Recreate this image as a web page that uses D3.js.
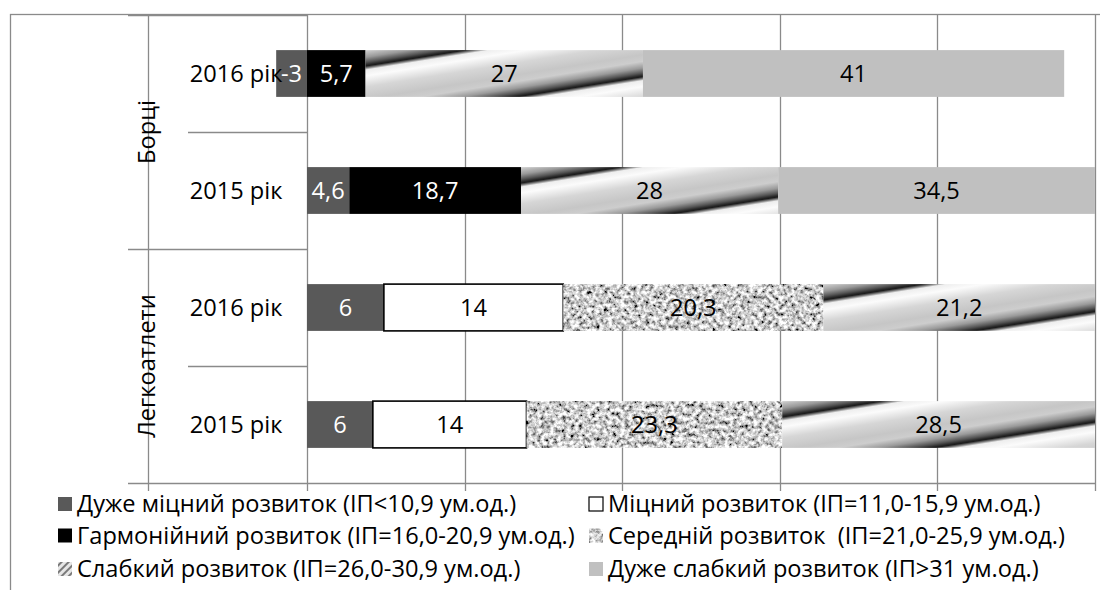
<!DOCTYPE html>
<html><head><meta charset="utf-8">
<script src="https://cdn.jsdelivr.net/npm/d3@7"></script>
<style>
body{margin:0;background:#fff}
svg{display:block}
text{font-family:"Open Sans",sans-serif;white-space:pre}
</style>
</head><body>
<svg id="c" width="1100" height="590"></svg>
<script>
// ---- data ----
const groups = ["Борці", "Борці", "Легкоатлети", "Легкоатлети"];
const years = ["2016 рік", "2015 рік", "2016 рік", "2015 рік"];
const seriesNames = [
  "Дуже міцний розвиток (ІП<10,9 ум.од.)",
  "Міцний розвиток (ІП=11,0-15,9 ум.од.)",
  "Гармонійний розвиток (ІП=16,0-20,9 ум.од.)",
  "Середній розвиток  (ІП=21,0-25,9 ум.од.)",
  "Слабкий розвиток (ІП=26,0-30,9 ум.од.)",
  "Дуже слабкий розвиток (ІП>31 ум.од.)"
];
const veryStrong = [-3, 4.6, 6, 6];
const strong = [null, null, 14, 14];
const harmonious = [5.7, 18.7, null, null];
const medium = [null, null, 20.3, 23.3];
const weak = [27, 28, 21.2, 28.5];
const veryWeak = [41, 34.5, null, null];
const seriesValues = [veryStrong, strong, harmonious, medium, weak, veryWeak];
// legend layout: row-major, two columns
const legendOrder = [0, 1, 2, 3, 4, 5];

// ---- layout ----
const svg = d3.select("#c");
const plot = {left: 307, right: 1095, top: 15, bottom: 483};
const FS = 23.6;
const grid = "#8a8a8a";

const x = d3.scaleLinear().domain([0, 1]).range([plot.left, plot.right]);
const y = d3.scaleBand().domain(d3.range(years.length))
  .range([plot.top, plot.bottom]).paddingInner(0.6).paddingOuter(0.3);
const step = y.step();

const defs = svg.append("defs");
// granite texture
const f = defs.append("filter").attr("id", "granite")
  .attr("filterUnits", "objectBoundingBox").attr("x", 0).attr("y", 0).attr("width", 1).attr("height", 1);
f.append("feTurbulence").attr("type", "fractalNoise").attr("baseFrequency", 0.24)
  .attr("numOctaves", 4).attr("seed", 7).attr("result", "n");
f.append("feColorMatrix").attr("in", "n").attr("type", "matrix")
  .attr("values", "2.1 0 0 0 -0.45  2.1 0 0 0 -0.45  2.1 0 0 0 -0.45  0 0 0 0 1").attr("result", "g");
f.append("feComposite").attr("in", "g").attr("in2", "SourceGraphic").attr("operator", "in");

// legend stripe pattern
const sp = defs.append("pattern").attr("id", "stripes").attr("patternUnits", "userSpaceOnUse")
  .attr("width", 5).attr("height", 5).attr("patternTransform", "rotate(45)");
sp.append("rect").attr("width", 5).attr("height", 5).attr("fill", "#e6e6e6");
sp.append("rect").attr("width", 2).attr("height", 5).attr("fill", "#7a7a7a");

const chromeStops = [
  [0, "#1c1c1c"], [0.03, "#707070"], [0.07, "#eeeeee"], [0.18, "#fbfbfb"],
  [0.38, "#d6d6d6"], [0.6, "#c6c6c6"], [0.72, "#cdcdcd"], [0.84, "#9a9a9a"],
  [0.93, "#555555"], [0.98, "#262626"], [1, "#1c1c1c"]
];

const solidFill = ["#595959", "#ffffff", "#000000", null, null, "#c0c0c0"];
const labelColor = ["#ffffff", "#000000", "#ffffff", "#000000", "#000000", "#000000"];

// outer border
svg.append("rect").attr("x", 10.5).attr("y", 14.5).attr("width", 1100).attr("height", 600)
  .attr("fill", "none").attr("stroke", grid).attr("stroke-width", 1.3);

// gridlines (value axis, ticks extend below)
svg.append("g").selectAll("line").data(x.ticks(5)).join("line")
  .attr("x1", d => Math.round(x(d)) + 0.5).attr("x2", d => Math.round(x(d)) + 0.5)
  .attr("y1", plot.top).attr("y2", plot.bottom + 8)
  .attr("stroke", grid).attr("stroke-width", 1.3);

// category axis lines
const catAxis = svg.append("g").attr("stroke", grid).attr("stroke-width", 1.3);
catAxis.append("line").attr("x1", 148.5).attr("x2", 148.5).attr("y1", plot.top).attr("y2", plot.bottom + 8);
d3.range(years.length + 1).forEach(i => {
  const yy = Math.round(plot.top + i * step) + 0.5;
  const isGroupEdge = i === 0 || i === years.length || groups[i] !== groups[i - 1];
  catAxis.append("line").attr("x1", isGroupEdge ? 128 : 188).attr("x2", i === years.length ? plot.right : plot.left)
    .attr("y1", yy).attr("y2", yy);
});

// stacked (100%) segments
const segs = [];
years.forEach((yr, i) => {
  const vals = seriesValues.map(s => s[i]);
  const total = d3.sum(vals, v => Math.abs(v || 0));
  let pos = 0, neg = 0;
  vals.forEach((v, k) => {
    if (v == null) return;
    const p = v / total;
    let a, b;
    if (v >= 0) { a = pos; b = pos + p; pos = b; } else { b = neg; a = neg + p; neg = a; }
    segs.push({cat: i, k, v, a, b});
  });
});

const bars = svg.append("g");
segs.forEach((s, idx) => {
  const x0 = x(s.a), x1 = x(s.b), y0 = y(s.cat), h = y.bandwidth();
  let fill = solidFill[s.k];
  if (s.k === 4) {
    const id = "chrome" + idx;
    const period = 55, slope = 0.16, off = 16;
    const d = period / (1 + slope * slope);
    const g = defs.append("linearGradient").attr("id", id).attr("gradientUnits", "userSpaceOnUse")
      .attr("spreadMethod", "repeat")
      .attr("x1", x0).attr("y1", y0 + off)
      .attr("x2", x0 + slope * d).attr("y2", y0 + off + d);
    chromeStops.forEach(st => g.append("stop").attr("offset", st[0]).attr("stop-color", st[1]));
    fill = `url(#${id})`;
  }
  const r = bars.append("rect").attr("x", x0).attr("y", y0).attr("width", x1 - x0).attr("height", h);
  if (s.k === 3) {
    r.attr("fill", "#aaa").attr("filter", "url(#granite)");
  } else {
    r.attr("fill", fill);
  }
  if (s.k === 1) r.attr("stroke", "#000").attr("stroke-width", 1.6);
});

// category labels
svg.append("g").selectAll("text").data(years).join("text")
  .attr("x", 236).attr("y", (d, i) => y(i) + y.bandwidth() / 2 + 8)
  .attr("text-anchor", "middle").attr("font-size", FS).attr("fill", "#000").text(d => d);

// group labels
const groupNames = Array.from(new Set(groups));
groupNames.forEach(gn => {
  const idxs = d3.range(groups.length).filter(i => groups[i] === gn);
  const cy = plot.top + (d3.min(idxs) + d3.max(idxs) + 1) / 2 * step;
  svg.append("text").attr("transform", `translate(155,${cy}) rotate(-90)`)
    .attr("text-anchor", "middle").attr("font-size", FS).attr("fill", "#000").text(gn);
});

// data labels
const fmt = v => String(v).replace(".", ",");
svg.append("g").selectAll("text").data(segs).join("text")
  .attr("x", d => (x(d.a) + x(d.b)) / 2)
  .attr("y", d => y(d.cat) + y.bandwidth() / 2 + 8)
  .attr("text-anchor", "middle").attr("font-size", FS)
  .attr("fill", d => labelColor[d.k]).text(d => fmt(d.v));

// legend
const leg = svg.append("g");
const colX = [58, 589], rowY = [512, 543.5, 577];
legendOrder.forEach((k, n) => {
  const cx = colX[n % 2], ry = rowY[Math.floor(n / 2)];
  const m = leg.append("rect").attr("x", cx).attr("y", ry - 15).attr("width", 14).attr("height", 14);
  if (k === 3) m.attr("fill", "#aaa").attr("filter", "url(#granite)");
  else if (k === 4) m.attr("fill", "url(#stripes)");
  else m.attr("fill", solidFill[k]);
  if (k === 1) m.attr("fill", "#fff").attr("stroke", "#000").attr("stroke-width", 1.2);
  leg.append("text").attr("x", cx + 19).attr("y", ry).attr("font-size", FS).attr("fill", "#000")
    .text(seriesNames[k]);
});
</script>
</body></html>
